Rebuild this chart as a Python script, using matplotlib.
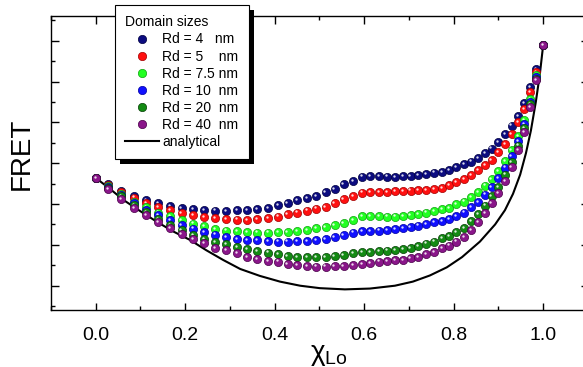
import matplotlib
matplotlib.use("Agg")
import matplotlib.pyplot as plt
import matplotlib.transforms as mtransforms
from matplotlib.lines import Line2D
from matplotlib.patches import Rectangle
from matplotlib.ticker import MultipleLocator

plt.rcParams['font.family'] = ['Liberation Sans', 'DejaVu Sans']

# Lo fraction for the simulated points (same grid for all domain sizes)
chi = [0.000, 0.028, 0.057, 0.085, 0.113, 0.140, 0.166, 0.192, 0.218, 0.243,
       0.267, 0.292, 0.316, 0.338, 0.361, 0.385, 0.407, 0.429, 0.451, 0.472,
       0.493, 0.514, 0.534, 0.554, 0.575, 0.595, 0.613, 0.633, 0.651, 0.669,
       0.687, 0.704, 0.721, 0.739, 0.756, 0.774, 0.790, 0.806, 0.823, 0.839,
       0.855, 0.870, 0.885, 0.900, 0.915, 0.930, 0.945, 0.958, 0.972, 0.985,
       1.000]

fret_rd4 = [0.364, 0.349, 0.333, 0.320, 0.310, 0.302, 0.295, 0.291, 0.287, 0.285,
            0.284, 0.283, 0.285, 0.285, 0.287, 0.291, 0.298, 0.303, 0.310, 0.314,
            0.320, 0.329, 0.337, 0.348, 0.357, 0.367, 0.369, 0.369, 0.367, 0.366,
            0.369, 0.369, 0.371, 0.373, 0.377, 0.379, 0.383, 0.390, 0.397, 0.404,
            0.412, 0.424, 0.436, 0.451, 0.471, 0.492, 0.516, 0.547, 0.586, 0.631,
            0.689]
fret_rd5 = [0.364, 0.347, 0.329, 0.316, 0.303, 0.293, 0.285, 0.277, 0.272, 0.268,
            0.265, 0.263, 0.262, 0.261, 0.263, 0.265, 0.269, 0.275, 0.279, 0.284,
            0.289, 0.293, 0.302, 0.312, 0.320, 0.328, 0.329, 0.329, 0.330, 0.331,
            0.332, 0.333, 0.334, 0.334, 0.336, 0.340, 0.347, 0.354, 0.361, 0.371,
            0.383, 0.396, 0.408, 0.427, 0.446, 0.471, 0.500, 0.533, 0.575, 0.624,
            0.689]
fret_rd7_5 = [0.364, 0.343, 0.325, 0.306, 0.293, 0.279, 0.271, 0.261, 0.252, 0.245,
              0.239, 0.235, 0.233, 0.232, 0.230, 0.230, 0.231, 0.232, 0.234, 0.236,
              0.241, 0.244, 0.249, 0.254, 0.261, 0.271, 0.271, 0.271, 0.269, 0.269,
              0.271, 0.273, 0.275, 0.279, 0.282, 0.287, 0.290, 0.299, 0.306, 0.317,
              0.329, 0.345, 0.362, 0.381, 0.406, 0.433, 0.466, 0.505, 0.557, 0.615,
              0.689]
fret_rd10 = [0.364, 0.342, 0.323, 0.303, 0.285, 0.273, 0.260, 0.249, 0.240, 0.231,
             0.225, 0.219, 0.214, 0.212, 0.211, 0.209, 0.208, 0.208, 0.209, 0.210,
             0.212, 0.214, 0.219, 0.224, 0.230, 0.234, 0.234, 0.235, 0.236, 0.238,
             0.241, 0.244, 0.247, 0.250, 0.255, 0.259, 0.264, 0.271, 0.279, 0.292,
             0.305, 0.323, 0.342, 0.363, 0.389, 0.418, 0.455, 0.495, 0.550, 0.610,
             0.689]
fret_rd20 = [0.364, 0.339, 0.320, 0.298, 0.281, 0.263, 0.249, 0.236, 0.224, 0.215,
             0.207, 0.201, 0.195, 0.189, 0.185, 0.181, 0.177, 0.173, 0.170, 0.170,
             0.170, 0.171, 0.173, 0.175, 0.179, 0.183, 0.183, 0.184, 0.186, 0.187,
             0.190, 0.193, 0.197, 0.203, 0.208, 0.216, 0.222, 0.231, 0.242, 0.258,
             0.276, 0.296, 0.319, 0.342, 0.372, 0.403, 0.443, 0.486, 0.545, 0.607,
             0.689]
fret_rd40 = [0.364, 0.336, 0.313, 0.291, 0.273, 0.256, 0.241, 0.227, 0.215, 0.205,
             0.193, 0.187, 0.179, 0.171, 0.166, 0.161, 0.159, 0.153, 0.150, 0.148,
             0.147, 0.147, 0.148, 0.148, 0.151, 0.153, 0.156, 0.159, 0.161, 0.162,
             0.163, 0.167, 0.171, 0.178, 0.183, 0.192, 0.198, 0.208, 0.219, 0.236,
             0.255, 0.277, 0.302, 0.326, 0.357, 0.390, 0.432, 0.477, 0.538, 0.604,
             0.689]

# analytical curve
ana_chi = [0.000, 0.032, 0.062, 0.099, 0.136, 0.173, 0.211, 0.247, 0.285, 0.323,
           0.367, 0.412, 0.457, 0.501, 0.557, 0.613, 0.669, 0.709, 0.747, 0.785,
           0.819, 0.859, 0.893, 0.915, 0.933, 0.949, 0.962, 0.973, 0.984, 0.993,
           1.000]
ana_fret = [0.364, 0.337, 0.310, 0.283, 0.257, 0.233, 0.212, 0.187, 0.163, 0.141,
            0.124, 0.110, 0.100, 0.094, 0.091, 0.093, 0.100, 0.110, 0.125, 0.145,
            0.170, 0.208, 0.250, 0.285, 0.325, 0.372, 0.425, 0.480, 0.550, 0.618,
            0.685]

series = [
    ("Rd = 4   nm", fret_rd4, "#0c0c80", "#000040"),
    ("Rd = 5    nm", fret_rd5, "#ff1010", "#a00000"),
    ("Rd = 7.5 nm", fret_rd7_5, "#22ff22", "#10a010"),
    ("Rd = 10  nm", fret_rd10, "#1010ff", "#0000a0"),
    ("Rd = 20  nm", fret_rd20, "#138a13", "#064006"),
    ("Rd = 40  nm", fret_rd40, "#8a168a", "#480048"),
]

fig = plt.figure(figsize=(5.83, 3.67), dpi=100)
ax = fig.add_axes([51 / 583, 57 / 367, 536.7 / 583, 294 / 367])

ax.plot(ana_chi, ana_fret, color="k", lw=1.5, zorder=2)

# little white glint up-left of each ball
glint = mtransforms.offset_copy(ax.transData, fig=fig, x=-1.2, y=1.2, units="dots")
for label, vals, col, edge in series:
    ax.plot(chi, vals, ls="none", marker="o", ms=5.9, mfc=col, mec=edge, mew=0.5, zorder=3)
    ax.plot(chi, vals, ls="none", marker="o", ms=1.7, mfc="white", mec="none",
            alpha=0.85, transform=glint, zorder=3)

ax.set_xlim(-0.1, 1.1)
ax.set_ylim(0.0405, 0.7605)
ax.set_xticks([0.0, 0.2, 0.4, 0.6, 0.8, 1.0])
ax.set_xticklabels(["0.0", "0.2", "0.4", "0.6", "0.8", "1.0"])
ax.xaxis.set_minor_locator(MultipleLocator(0.1))
ax.yaxis.set_major_locator(MultipleLocator(0.1))
ax.yaxis.set_minor_locator(MultipleLocator(0.05))
ax.tick_params(which="both", direction="in", top=True, right=True, width=1.0,
               labelleft=False, labelsize=14, pad=12.5)
ax.tick_params(which="major", length=5.4)
ax.tick_params(which="minor", length=2.9)
for sp in ax.spines.values():
    sp.set_linewidth(1.0)

ax.set_ylabel("FRET", fontsize=20, va="center", ha="center")
ax.yaxis.set_label_coords((21.7 - 51) / 536.7, (310 - 154) / 294)
ax.set_xlabel("χ$_{\\mathregular{Lo}}$", fontsize=20, va="center", ha="center")
ax.xaxis.set_label_coords((329 - 51) / 536.7, (310 - 355) / 294)

handles = [Line2D([], [], ls="none", marker="o", ms=6, mfc=col, mec=edge, mew=0.5)
           for _, _, col, edge in series]
handles.append(Line2D([], [], color="k", lw=1.5))
labels = [s[0] for s in series] + ["analytical"]
leg = ax.legend(handles, labels, title="Domain sizes", loc="upper left",
                bbox_to_anchor=(115 / 583, 1 - 5 / 367), bbox_transform=fig.transFigure,
                borderaxespad=0, fontsize=10, title_fontsize=10, fancybox=False,
                edgecolor="k", framealpha=1, handlelength=2.4, handletextpad=0.27,
                labelspacing=0.22, borderpad=0.75, alignment="left")
leg.get_frame().set_linewidth(0.8)
leg.set_zorder(6)

fig.canvas.draw()
bb = leg.get_window_extent()
shadow = Rectangle((bb.x0 + 5, bb.y0 - 5), bb.width, bb.height, facecolor="k",
                   edgecolor="none", transform=mtransforms.IdentityTransform(),
                   clip_on=False, zorder=5.5)
ax.add_patch(shadow)
ax.set_xlim(-0.1, 1.1)
ax.set_ylim(0.0405, 0.7605)

fig.savefig("out.png", dpi=100)
